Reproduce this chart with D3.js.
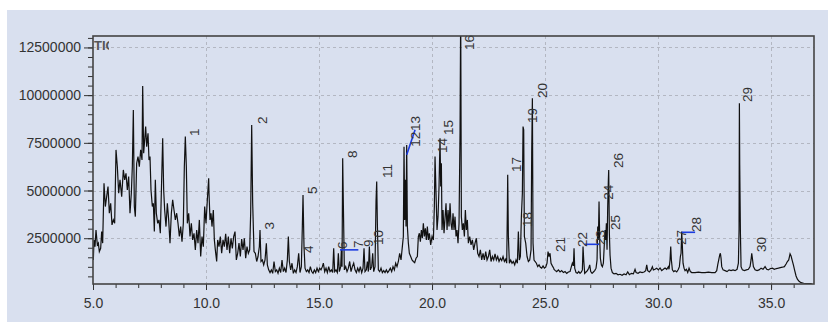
<!DOCTYPE html>
<html>
<head>
<meta charset="utf-8">
<script src="https://cdn.jsdelivr.net/npm/d3@7"></script>
<style>
  body { margin: 0; background: #fff; }
  svg text { font-family: "Liberation Sans", Arial, sans-serif; }
</style>
</head>
<body>
<svg id="chart" width="828" height="322"></svg>
<script>
// TIC trace: [retention time (min), intensity in millions of counts]
const MILLION = 1e6;
const tic = [
  [5.015,1.36],[5.044,2.41],[5.088,2.06],[5.133,2.93],[5.192,2.15],[5.236,2.24],[5.28,1.80],[5.339,1.97],[5.384,2.85],[5.428,2.24],
  [5.487,5.38],[5.546,4.16],[5.605,4.68],[5.664,5.21],[5.723,3.81],[5.782,4.33],[5.841,3.20],[5.9,3.46],[5.959,3.28],[6.018,7.13],
  [6.077,6.25],[6.136,4.86],[6.195,5.56],[6.269,4.68],[6.342,6.08],[6.401,5.56],[6.46,5.90],[6.519,5.03],[6.578,5.73],[6.637,3.81],
  [6.696,4.86],[6.74,6.25],[6.785,9.22],[6.829,4.16],[6.873,3.63],[6.932,6.43],[6.991,6.78],[7.05,6.25],[7.109,7.13],[7.168,6.60],
  [7.198,10.48],[7.242,6.95],[7.286,7.65],[7.33,8.35],[7.375,7.30],[7.434,8.00],[7.478,6.60],[7.522,6.78],[7.566,5.03],[7.625,4.16],
  [7.67,4.33],[7.714,2.85],[7.758,5.56],[7.802,3.81],[7.862,3.28],[7.92,3.46],[7.979,2.76],[8.038,5.56],[8.083,7.74],[8.127,5.03],
  [8.171,3.98],[8.23,3.11],[8.289,4.33],[8.348,3.46],[8.407,2.24],[8.466,3.81],[8.525,4.51],[8.584,3.98],[8.643,3.46],[8.702,3.81],
  [8.761,3.28],[8.82,2.59],[8.879,3.11],[8.938,2.32],[8.997,3.28],[9.041,6.25],[9.085,7.83],[9.13,6.25],[9.174,3.28],[9.233,3.81],
  [9.292,2.59],[9.351,3.28],[9.41,2.41],[9.469,2.76],[9.528,1.89],[9.587,2.93],[9.646,2.24],[9.705,3.46],[9.764,1.54],[9.823,2.59],
  [9.882,2.06],[9.941,4.16],[10.0,3.28],[10.059,4.51],[10.118,5.64],
  [10.133,4.86],[10.177,3.46],[10.221,3.81],[10.265,3.11],[10.324,3.98],[10.369,2.41],[10.413,1.89],[10.472,1.28],[10.516,2.41],[10.575,2.06],
  [10.634,2.59],[10.693,1.71],[10.752,2.41],[10.811,2.06],[10.87,2.73],[10.929,1.89],[10.988,2.59],[11.047,1.71],[11.106,2.50],[11.165,1.97],
  [11.224,2.59],[11.283,2.85],[11.342,1.36],[11.401,1.71],[11.46,2.24],[11.519,1.54],[11.578,2.45],[11.637,1.89],[11.696,2.50],[11.755,1.45],
  [11.814,2.06],[11.873,1.71],[11.932,1.89],[11.976,3.81],[12.021,8.44],[12.065,4.33],[12.124,1.80],[12.183,1.71],[12.242,1.28],[12.301,1.54],
  [12.36,2.06],[12.389,2.93],[12.434,1.28],[12.493,1.36],[12.552,1.10],[12.611,1.36],[12.67,2.24],[12.714,1.10],[12.773,0.84],[12.832,0.70],
  [12.891,0.84],[12.95,0.66],[13.009,1.28],[13.068,0.75],[13.127,0.84],[13.186,0.66],[13.245,0.93],[13.304,0.70],[13.363,1.36],[13.422,0.75],
  [13.481,0.93],[13.54,0.70],[13.599,1.36],[13.643,2.59],[13.687,1.28],[13.746,0.84],[13.805,1.19],[13.864,0.66],[13.923,0.84],[13.982,0.70],
  [14.041,1.01],[14.1,1.71],[14.159,0.70],[14.218,1.01],[14.262,3.11],[14.292,4.77],[14.336,2.06],[14.381,0.93],[14.44,0.75],[14.499,0.84],
  [14.558,0.70],[14.617,1.01],[14.676,0.75],[14.735,0.66],[14.794,0.84],[14.853,0.70],[14.912,0.93],[14.971,0.75],[15.03,0.93],[15.088,0.84],
  [15.147,1.01],
  [15.192,1.19],[15.251,0.75],[15.31,0.93],[15.369,0.70],[15.428,1.01],[15.487,0.75],[15.546,0.84],[15.605,0.70],[15.649,1.97],[15.693,0.75],
  [15.752,0.84],[15.811,0.70],[15.855,1.71],[15.9,0.75],[15.959,1.01],[15.988,1.89],[16.018,1.01],[16.047,6.69],[16.077,4.25],[16.121,0.84],
  [16.18,1.01],[16.239,0.75],[16.298,0.93],[16.357,1.28],[16.416,0.75],[16.475,1.01],[16.534,1.19],[16.593,0.84],[16.652,0.70],[16.711,0.93],
  [16.77,0.75],[16.829,1.01],[16.888,0.70],[16.947,0.93],[16.991,1.97],[17.035,0.75],[17.094,0.84],[17.139,1.28],[17.183,0.75],[17.227,2.06],
  [17.271,0.84],[17.331,1.01],[17.375,1.71],[17.419,0.75],[17.478,1.01],[17.522,4.42],[17.552,5.47],[17.581,3.28],[17.625,0.84],[17.684,0.75],
  [17.743,0.93],[17.802,0.70],[17.861,0.80],[17.92,0.70],[17.979,0.84],[18.038,0.70],[18.097,0.80],[18.156,0.93],[18.215,0.75],[18.274,1.01],
  [18.333,0.84],[18.392,1.19],[18.451,1.01],[18.51,1.28],[18.569,1.71],[18.628,1.36],[18.687,2.06],[18.731,2.59],[18.761,7.30],[18.79,3.46],
  [18.82,5.56],[18.85,3.11],[18.879,7.39],[18.909,3.11],[18.953,2.24],[18.997,1.71],[19.056,1.54],[19.115,1.36],[19.174,1.28],[19.233,1.22],
  [19.292,1.45],[19.351,1.54],[19.395,2.59],[19.439,2.76],[19.484,2.32],[19.528,2.93],[19.572,2.50],[19.616,3.28],[19.661,2.59],[19.705,3.02],
  [19.749,2.41],[19.793,3.11],[19.838,2.41],[19.882,2.76],[19.941,2.15],[20.0,2.59],[20.059,2.41],[20.103,4.16],[20.133,6.78],
  [20.221,2.93],[20.265,3.63],[20.31,5.21],[20.354,7.74],[20.384,5.21],[20.413,6.43],[20.442,2.93],[20.487,3.98],[20.531,2.76],[20.575,3.55],
  [20.619,4.33],[20.664,2.93],[20.708,3.98],[20.752,3.11],[20.796,4.33],[20.841,3.28],[20.885,2.93],[20.929,3.81],[20.973,2.93],[21.018,3.63],
  [21.062,2.59],[21.106,2.93],[21.15,2.24],[21.195,3.28],[21.239,8.00],[21.268,14.5],[21.298,3.63],[21.342,2.93],[21.386,3.28],[21.431,2.59],
  [21.475,3.98],[21.519,2.93],[21.563,3.46],[21.608,2.24],[21.667,2.59],[21.726,2.15],[21.785,2.41],[21.844,1.89],[21.903,2.24],[21.962,2.50],
  [22.021,1.71],[22.08,1.54],[22.139,1.89],[22.198,1.36],[22.257,1.71],[22.316,1.36],[22.375,1.80],[22.434,1.36],[22.493,1.54],[22.552,1.89],
  [22.611,1.28],[22.67,1.54],[22.729,1.36],[22.788,1.68],[22.847,1.36],[22.906,1.54],[22.965,1.28],[23.024,1.45],[23.083,1.33],[23.142,1.54],
  [23.201,1.28],[23.26,1.40],[23.304,1.19],[23.333,3.98],[23.348,5.82],[23.378,2.59],[23.422,1.19],[23.481,1.36],[23.54,1.19],[23.599,1.28],
  [23.658,1.10],[23.717,1.36],[23.776,1.19],[23.82,2.85],[23.864,1.36],[23.909,1.54],[23.953,3.63],[23.997,4.86],[24.027,8.35],[24.056,8.18],
  [24.086,2.59],[24.145,2.24],[24.204,1.54],[24.263,1.28],[24.322,1.36],[24.381,1.89],[24.41,6.95],[24.44,9.84],[24.469,2.24],[24.513,1.36],
  [24.558,1.28],[24.617,1.19],[24.676,1.01],[24.735,1.10],[24.794,0.98],[24.853,0.93],[24.912,1.05],[24.971,0.93],[25.03,0.98],[25.088,1.19],
  [25.133,1.80],[25.177,1.54],[25.221,1.71],[25.265,1.19],[25.324,1.05],[25.383,0.93],
  [25.398,0.87],[25.457,0.80],[25.516,0.75],[25.59,0.84],[25.664,0.73],[25.737,0.80],[25.811,0.70],[25.885,0.75],[25.959,0.66],[26.032,0.73],
  [26.106,0.75],[26.165,1.01],[26.209,1.19],[26.254,1.05],[26.283,1.97],[26.313,0.93],[26.372,0.70],[26.431,0.66],[26.49,0.75],[26.549,0.66],
  [26.608,0.73],[26.652,0.84],[26.681,2.06],[26.711,1.36],[26.755,0.66],[26.814,0.73],[26.873,0.80],[26.932,0.93],[26.977,1.10],[27.021,0.75],
  [27.08,0.66],[27.139,0.73],[27.198,0.80],[27.257,0.93],[27.301,1.36],[27.331,3.11],[27.36,2.41],[27.389,4.42],[27.419,2.41],[27.448,1.45],
  [27.493,1.10],[27.537,1.01],[27.581,1.19],[27.625,2.24],[27.655,2.93],[27.684,2.41],[27.714,3.28],[27.743,1.89],[27.773,4.16],[27.802,5.56],
  [27.817,6.08],[27.846,2.76],[27.876,1.62],[27.92,0.93],[27.979,0.70],[28.053,0.63],[28.142,0.66],[28.23,0.58],[28.319,0.61],[28.407,0.56],
  [28.496,0.63],[28.584,0.58],[28.658,0.73],[28.732,0.59],[28.82,0.66],[28.909,0.63],[28.982,0.87],[29.027,0.70],[29.115,0.66],[29.204,0.73],
  [29.292,0.70],[29.381,0.73],[29.454,0.80],[29.499,1.10],[29.543,0.80],[29.617,0.73],[29.69,0.84],[29.749,1.01],[29.794,0.84],[29.867,0.87],
  [29.941,0.93],[30.015,0.84],[30.088,0.94],[30.162,0.80],[30.236,0.87],[30.31,0.94],[30.383,0.87],[30.457,1.01],
  [30.487,0.87],[30.531,1.36],[30.561,2.06],[30.59,1.36],[30.634,0.84],[30.693,0.75],[30.752,0.80],[30.826,0.73],[30.9,0.87],[30.944,1.01],
  [30.988,1.54],[31.018,1.71],[31.047,2.85],[31.077,2.06],[31.106,1.19],[31.15,0.93],[31.195,0.80],[31.254,0.87],[31.313,0.70],[31.372,0.93],
  [31.431,0.75],[31.49,0.70],[31.637,0.70],[31.785,0.72],[31.932,0.70],[32.08,0.70],[32.227,0.72],[32.375,0.70],[32.522,0.70],[32.596,0.80],
  [32.64,1.10],[32.685,1.36],[32.729,1.62],[32.758,1.71],[32.788,1.45],[32.817,1.01],[32.876,0.84],[32.965,0.80],[33.053,0.75],[33.142,0.84],
  [33.23,0.80],[33.319,0.84],[33.407,0.80],[33.496,0.87],[33.555,1.19],[33.584,2.93],[33.599,9.57],[33.614,6.34],[33.643,2.85],[33.673,1.01],
  [33.732,0.84],[33.82,0.80],[33.909,0.84],[33.997,0.87],[34.071,1.01],[34.115,1.36],[34.145,1.71],[34.174,1.45],[34.218,1.01],[34.292,0.84],
  [34.381,0.80],[34.469,0.84],[34.558,0.93],[34.646,0.87],[34.735,1.01],[34.808,0.87],[34.882,0.84],[34.971,0.91],[35.059,0.93],[35.147,0.87],
  [35.236,0.91],[35.324,0.93],[35.413,0.96],[35.501,0.98],[35.59,1.01],[35.664,1.15],[35.723,1.28],[35.782,1.36],[35.841,1.68],[35.885,1.57],
  [35.929,1.36],[35.988,1.10],[36.047,0.80],[36.106,0.52],[36.165,0.35],[36.239,0.24],[36.327,0.17],[36.445,0.14],[36.593,0.12],[36.799,0.12]
];

// peak numbers: [label, retention time, intensity (millions)] at the label's foot
const peakLabels = [
  ["1",9.07,7.86],["2",12.06,8.49],["3",12.41,2.96],["4",14.11,1.73],["5",14.29,4.82],
  ["6",15.62,1.94],["7",16.33,1.99],["8",16.05,6.71],["9",16.77,2.04],["10",17.21,2.15],
  ["11",17.60,5.66],["12",18.85,7.30],["13",18.85,8.12],["14",20.03,6.97],["15",20.31,7.91],
  ["16",21.24,12.37],["17",23.32,5.97],["18",23.80,3.09],["19",24.03,8.54],["20",24.47,9.85],
  ["21",25.26,1.78],["22",26.24,2.04],["23",27.03,2.15],["24",27.39,4.51],["25",27.70,2.93],
  ["26",27.83,6.18],["27",30.60,2.15],["28",31.28,2.83],["29",33.54,9.64],["30",34.14,1.78]
];

// integration baseline marks (blue): [t1, v1, t2, v2]
const baselineMarks = [
  [15.93,1.89,16.74,1.89],
  [18.88,6.87,19.25,8.18],
  [26.74,2.18,27.39,2.18],
  [31.05,2.81,31.64,2.81]
];

const xTicks = [5, 10, 15, 20, 25, 30, 35];
const xMinorTicks = d3.range(6, 37, 1);
const yTicks = [2500000, 5000000, 7500000, 10000000, 12500000];
const yMinorTicks = d3.range(500000, 13100000, 500000);

const svg = d3.select("#chart");
const plot = { left: 93, right: 814, top: 36, bottom: 284 };

svg.append("rect")
  .attr("x", 7).attr("y", 10)
  .attr("width", 821).attr("height", 312)
  .attr("fill", "#d9e0ef");

const x = d3.scaleLinear().domain([5, 36.9]).range([plot.left, plot.right]);
const y = d3.scaleLinear().domain([0.1e6, 13.1e6]).range([plot.bottom, plot.top]);

// grid
const grid = svg.append("g")
  .attr("stroke", "#b3b7c2")
  .attr("stroke-dasharray", "3,3")
  .attr("stroke-width", 1);

grid.selectAll(".gx")
  .data(xTicks.filter(d => d > 5))
  .enter()
  .append("line")
    .attr("x1", d => Math.round(x(d)) + 0.5)
    .attr("x2", d => Math.round(x(d)) + 0.5)
    .attr("y1", plot.top)
    .attr("y2", plot.bottom);

grid.selectAll(".gy")
  .data(yTicks)
  .enter()
  .append("line")
    .attr("x1", plot.left)
    .attr("x2", plot.right)
    .attr("y1", d => Math.round(y(d)) + 0.5)
    .attr("y2", d => Math.round(y(d)) + 0.5);

svg.append("clipPath")
  .attr("id", "plot-clip")
  .append("rect")
    .attr("x", plot.left).attr("y", plot.top)
    .attr("width", plot.right - plot.left)
    .attr("height", plot.bottom - plot.top);

const line = d3.line()
  .x(d => x(d[0]))
  .y(d => y(d[1] * MILLION));

svg.append("path")
  .datum(tic)
  .attr("clip-path", "url(#plot-clip)")
  .attr("fill", "none")
  .attr("stroke", "#111")
  .attr("stroke-width", 1.2)
  .attr("stroke-linejoin", "miter")
  .attr("d", line);

svg.append("g")
  .selectAll("line")
  .data(baselineMarks)
  .enter()
  .append("line")
    .attr("x1", d => x(d[0]))
    .attr("y1", d => y(d[1] * MILLION))
    .attr("x2", d => x(d[2]))
    .attr("y2", d => y(d[3] * MILLION))
    .attr("stroke", "#1c3ce0")
    .attr("stroke-width", 1.6);

svg.append("g")
  .selectAll("text")
  .data(peakLabels)
  .enter()
  .append("text")
    .attr("transform", d => `translate(${x(d[1]) + 14}, ${y(d[2] * MILLION)}) rotate(-90)`)
    .attr("font-size", 13.5)
    .attr("fill", "#333")
    .text(d => d[0]);

// axes
const styleAxis = g => {
  g.select(".domain").remove();
  g.selectAll("line").attr("stroke", "#333");
  g.selectAll("text").attr("fill", "#333").attr("font-size", 14)
    .attr("font-family", "Liberation Sans, Arial, sans-serif");
};

svg.append("g")
  .attr("transform", `translate(${plot.left}, 0)`)
  .call(d3.axisLeft(y).tickValues(yMinorTicks).tickSize(5).tickFormat(""))
  .call(styleAxis);

svg.append("g")
  .attr("transform", `translate(${plot.left}, 0)`)
  .call(d3.axisLeft(y).tickValues(yTicks).tickSize(9).tickPadding(3).tickFormat(d3.format("d")))
  .call(styleAxis);

svg.append("g")
  .attr("transform", `translate(0, ${plot.bottom})`)
  .call(d3.axisBottom(x).tickValues(xMinorTicks).tickSize(4).tickFormat(""))
  .call(styleAxis);

svg.append("g")
  .attr("transform", `translate(0, ${plot.bottom})`)
  .call(d3.axisBottom(x).tickValues(xTicks).tickSize(6).tickPadding(8).tickFormat(d3.format(".1f")))
  .call(styleAxis);

// frame
svg.append("rect")
  .attr("x", plot.left).attr("y", plot.top)
  .attr("width", plot.right - plot.left)
  .attr("height", plot.bottom - plot.top)
  .attr("fill", "none")
  .attr("stroke", "#444")
  .attr("stroke-width", 1.6);

svg.append("clipPath")
  .attr("id", "tic-clip")
  .append("rect")
    .attr("x", plot.left).attr("y", plot.top)
    .attr("width", 16).attr("height", 20);

svg.append("text")
  .attr("clip-path", "url(#tic-clip)")
  .attr("x", plot.left + 1)
  .attr("y", plot.top + 14)
  .attr("font-size", 13)
  .attr("font-weight", "bold")
  .attr("fill", "#555")
  .text("TIC");
</script>
</body>
</html>
